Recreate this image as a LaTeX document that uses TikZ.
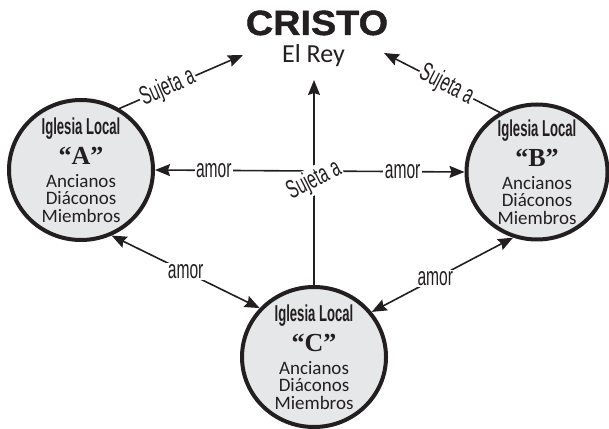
\documentclass[tikz,border=0pt]{standalone}
\usepackage{fontspec}
\usepackage{graphicx}
\usetikzlibrary{arrows.meta,positioning,shapes.geometric}
\newfontfamily\carlito{Carlito}
\newfontfamily\libsans{Liberation Sans}
\newfontfamily\heavyfont[FakeBold=1.2]{Liberation Sans Bold}
\newfontfamily\letterfont{Liberation Serif}
\definecolor{ink}{RGB}{35,31,32}
\definecolor{churchfill}{RGB}{230,231,232}
\tikzset{
  iglesia/.style={ellipse,draw=ink,fill=churchfill,line width=4pt,
    minimum width=144pt,minimum height=140pt,inner sep=-15pt,align=center,
    text=ink,font=\carlito\fontsize{19}{17.5}\selectfont},
  link/.style={draw=ink,line width=1.6pt},
  lbl/.style={fill=white,inner sep=1.5pt,text=ink,
    font=\libsans\fontsize{26}{26}\selectfont},
}
\newcommand{\cond}[1]{\scalebox{0.6}[1]{#1}}
\newcommand{\iglesiatext}[1]{\scalebox{0.57}[1]{\libsans\bfseries\fontsize{23}{23}\selectfont Iglesia Local}\\[7pt]
  {\letterfont\bfseries\fontsize{26}{26}\selectfont “#1”}\\[5pt]
  Ancianos\\Diáconos\\Miembros}

\begin{document}
\begin{tikzpicture}[x=1pt,y=1pt,line cap=round,line join=round,
  >={Stealth[length=15pt,width=12pt,inset=2pt]}]
\useasboundingbox (0,0) rectangle (609,428);

% Cristo
\node[anchor=base,text=ink] (cristo) at (317,393)
  {\scalebox{1.08}[1]{\heavyfont\fontsize{35}{35}\selectfont CRISTO}};
\node[anchor=base,text=ink] (rey) at (313.5,365)
  {\carlito\fontsize{26}{26}\selectfont El Rey};

% iglesias locales
\node[iglesia] (A) at (81,258) {\iglesiatext{A}};
\node[iglesia,minimum width=141pt,minimum height=135pt] (B) at (537,256) {\iglesiatext{B}};
\node[iglesia] (C) at (314,71) {\iglesiatext{C}};

\coordinate (tipA) at (243,373);
\coordinate (tipB) at (384,375);
\coordinate (tipC) at (314,348);

% sujeta a
\draw[link,->] (A.58) -- node[lbl,sloped,pos=.39] {\cond{Sujeta a}} (tipA);
\draw[link,->] (B.122) -- node[lbl,sloped,pos=.46] {\cond{Sujeta a}} (tipB);

% amor
\draw[link,<->] (A.east) -- node[lbl,pos=.19] {\cond{amor}} node[lbl,pos=.8] {\cond{amor}} (B.west);
\draw[link,->] (C.north) -- node[lbl,rotate=27,pos=.51] {\cond{Sujeta a}} (tipC);
\draw[link,<->] (A.-65) -- node[lbl] {\cond{amor}} (C.138);
\draw[link,<->] (C.38) -- node[lbl,pos=.45] {\cond{amor}} (B.-110);

\end{tikzpicture}
\end{document}
